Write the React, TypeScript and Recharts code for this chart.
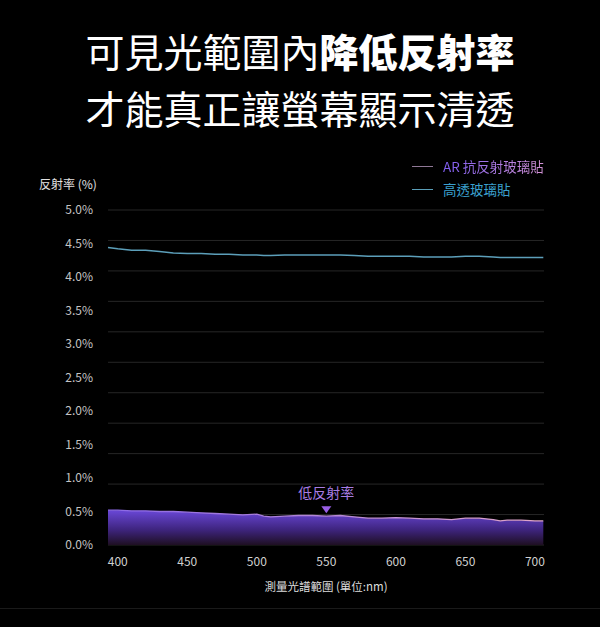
import { ComposedChart, Line, Area, XAxis, YAxis, CartesianGrid, ReferenceDot } from 'recharts'

// wavelength samples (nm)
const wavelengths = [
  393, 400, 410, 420, 430, 440, 450, 460, 470, 480, 490, 500, 505, 510, 520, 530, 540, 550,
  560, 570, 580, 590, 600, 610, 620, 630, 640, 650, 660, 670, 675, 680, 690, 700, 706,
]

// AR 抗反射玻璃貼 reflectance (%)
const arFilm = [
  0.52, 0.52, 0.51, 0.51, 0.5, 0.5, 0.49, 0.48, 0.47, 0.46, 0.45, 0.46, 0.43, 0.42, 0.43, 0.44, 0.44, 0.43,
  0.44, 0.42, 0.4, 0.4, 0.41, 0.4, 0.39, 0.39, 0.38, 0.4, 0.4, 0.38, 0.36, 0.37, 0.37, 0.36, 0.36,
]

// 高透玻璃貼 reflectance (%)
const clearFilm = [
  4.44, 4.42, 4.4, 4.4, 4.38, 4.36, 4.35, 4.35, 4.34, 4.34, 4.33, 4.33, 4.32, 4.32, 4.33, 4.33, 4.33, 4.33,
  4.33, 4.32, 4.31, 4.31, 4.31, 4.31, 4.3, 4.3, 4.3, 4.31, 4.31, 4.3, 4.29, 4.29, 4.29, 4.29, 4.29,
]

const yTicks = [0, 0.5, 1, 1.5, 2, 2.5, 3, 3.5, 4, 4.5, 5]
const xTicks = [400, 450, 500, 550, 600, 650, 700]
const markerNm = 550
const markerValue = 0.43

const data = wavelengths.map((nm, i) => ({ nm, ar: arFilm[i], clear: clearFilm[i] }))

const FONT = '"Noto Sans CJK TC", "Noto Sans", sans-serif'

function LegendBox() {
  return (
    <div style={{ fontFamily: FONT, fontSize: 13.5, lineHeight: '23px' }}>
      <div style={{ display: 'flex', alignItems: 'center' }}>
        <span style={{ width: 21, height: 1.5, background: '#8f7896', marginRight: 10 }} />
        <span
          style={{
            background: 'linear-gradient(90deg, #7d5cf0, #d493d6)',
            WebkitBackgroundClip: 'text',
            backgroundClip: 'text',
            color: 'transparent',
          }}
        >
          AR 抗反射玻璃貼
        </span>
      </div>
      <div style={{ display: 'flex', alignItems: 'center' }}>
        <span style={{ width: 21, height: 1.5, background: '#5a9eb8', marginRight: 10 }} />
        <span style={{ color: '#3ba0cf' }}>高透玻璃貼</span>
      </div>
    </div>
  )
}

function LowMarker({ cx, cy }: { cx?: number; cy?: number }) {
  if (cx == null || cy == null) return null
  return (
    <g>
      <path d={`M${cx - 5},${cy - 10} L${cx + 5},${cy - 10} L${cx},${cy - 3} Z`} fill="#9a5fe6" />
      <text
        x={cx}
        y={cy - 22}
        textAnchor="middle"
        dominantBaseline="middle"
        fill="#a77ce2"
        fontSize={14}
        fontFamily={FONT}
      >
        低反射率
      </text>
    </g>
  )
}

export default function App() {
  return (
    <div
      style={{
        position: 'absolute',
        left: 0,
        top: 0,
        width: 600,
        height: 627,
        background: '#000',
        overflow: 'hidden',
        fontFamily: FONT,
      }}
    >
      <div
        style={{
          position: 'absolute',
          top: 22,
          left: 0,
          width: 600,
          textAlign: 'center',
          color: '#fff',
          fontSize: 39,
          lineHeight: '57px',
        }}
      >
        <div>
          可見光範圍內<span style={{ fontWeight: 900 }}>降低反射率</span>
        </div>
        <div>才能真正讓螢幕顯示清透</div>
      </div>

      <div
        style={{
          position: 'absolute',
          left: 39,
          top: 175,
          color: '#e2e2e2',
          fontSize: 12,
        }}
      >
        反射率 (%)
      </div>

      <div style={{ position: 'absolute', left: 412, top: 155 }}>
        <LegendBox />
      </div>

      <div style={{ position: 'absolute', left: 0, top: 0 }}>
        <ComposedChart width={600} height={627} data={data} margin={{ top: 210, right: 56, left: 40, bottom: 52 }}>
          <defs>
            <linearGradient id="arFill" x1="0" y1="0" x2="0" y2="1">
              <stop offset="0%" stopColor="#6a48d8" />
              <stop offset="55%" stopColor="#3f2580" />
              <stop offset="100%" stopColor="#1e0f22" />
            </linearGradient>
            <linearGradient id="arStroke" x1="0" y1="0" x2="1" y2="0">
              <stop offset="0%" stopColor="#8a68e6" />
              <stop offset="100%" stopColor="#e0a6c8" />
            </linearGradient>
          </defs>
          <CartesianGrid
            vertical={false}
            stroke="#262626"
            horizontalCoordinatesGenerator={({ offset }: any) =>
              Array.from({ length: 12 }, (_, i) => offset.top + (offset.height * i) / 11)
            }
          />
          <XAxis
            dataKey="nm"
            type="number"
            domain={[393, 706.5]}
            ticks={xTicks}
            axisLine={false}
            tickLine={false}
            tickSize={0}
            tickMargin={12}
            height={30}
            tick={{ fill: '#d0d0d0', fontSize: 12, fontFamily: FONT }}
          />
          <YAxis
            type="number"
            domain={[0, 5]}
            ticks={yTicks}
            axisLine={false}
            tickLine={false}
            tickSize={0}
            tickMargin={15}
            width={68}
            tickFormatter={(v: number) => `${v.toFixed(1)}%`}
            tick={{ fill: '#c4c4c4', fontSize: 12, fontFamily: FONT }}
          />
          <Area
            type="linear"
            dataKey="ar"
            name="AR 抗反射玻璃貼"
            stroke="url(#arStroke)"
            strokeWidth={1.3}
            fill="url(#arFill)"
            fillOpacity={1}
            isAnimationActive={false}
          />
          <Line
            type="linear"
            dataKey="clear"
            name="高透玻璃貼"
            stroke="#5c9fba"
            strokeWidth={1.5}
            dot={false}
            isAnimationActive={false}
          />
          <ReferenceDot x={markerNm} y={markerValue} r={0} shape={(p: any) => <LowMarker cx={p.cx} cy={p.cy} />} />
        </ComposedChart>
      </div>

      <div
        style={{
          position: 'absolute',
          left: 108,
          width: 436,
          top: 578,
          textAlign: 'center',
          color: '#dcdcdc',
          fontSize: 11.5,
        }}
      >
        測量光譜範圍 (單位:nm)
      </div>

      <div style={{ position: 'absolute', left: 0, top: 608, width: 600, height: 1, background: '#1a1a1a' }} />
    </div>
  )
}
